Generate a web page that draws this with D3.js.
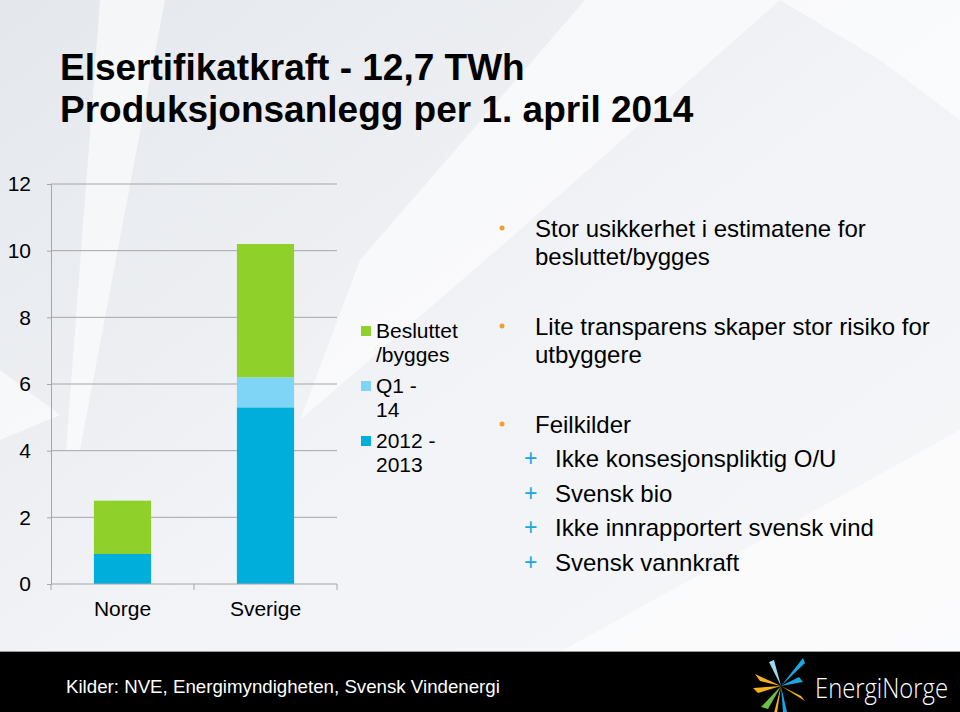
<!DOCTYPE html>
<html>
<head>
<meta charset="utf-8">
<script src="https://cdn.jsdelivr.net/npm/d3@7"></script>
<style>
  html, body { margin: 0; padding: 0; background: #e9ecf0; }
  svg { display: block; }
  text { font-family: "Liberation Sans", Arial, sans-serif; }
</style>
</head>
<body>
<script>
// data
const categories = ["Norge", "Sverige"];
const seriesKeys = ["2012 - 2013", "Q1 - 14", "Besluttet /bygges"];
const values2012to2013 = [0.9, 5.3];
const valuesQ1of14 = [0, 0.9];
const valuesBesluttet = [1.6, 4.0];
const yTicks = [0, 2, 4, 6, 8, 10, 12];
const legendLines = [["Besluttet", "/bygges"], ["Q1 -", "14"], ["2012 -", "2013"]];
const colors = ["#00aedb", "#7fd5f6", "#8fd12a"];

const bullets = [
  { lines: ["Stor usikkerhet i estimatene for", "besluttet/bygges"], y: 237 },
  { lines: ["Lite transparens skaper stor risiko for", "utbyggere"], y: 335 },
  { lines: ["Feilkilder"], y: 433 }
];
const subBullets = ["Ikke konsesjonspliktig O/U", "Svensk bio", "Ikke innrapportert svensk vind", "Svensk vannkraft"];

const width = 960, height = 712;

const svg = d3.select("body").append("svg")
  .attr("width", width)
  .attr("height", height);

// background
const defs = svg.append("defs");
const grad = defs.append("linearGradient").attr("id", "bg")
  .attr("x1", 0).attr("y1", 0).attr("x2", 1).attr("y2", 1);
grad.append("stop").attr("offset", "0%").attr("stop-color", "#e4e7ec");
grad.append("stop").attr("offset", "50%").attr("stop-color", "#f1f3f6");
grad.append("stop").attr("offset", "100%").attr("stop-color", "#f6f7f9");
svg.append("rect").attr("width", width).attr("height", height).attr("fill", "url(#bg)");

const shards = [
  [[585, 0], [780, 0], [520, 230], [300, 420], [360, 260]],
  [[100, 0], [165, 0], [80, 450], [66, 450]],
  [[560, 652], [960, 430], [960, 652]],
  [[0, 370], [60, 415], [0, 440]],
  [[780, 0], [960, 0], [960, 120], [880, 60]]
];
svg.append("g").selectAll("polygon")
  .data(shards)
  .enter()
  .append("polygon")
  .attr("points", d => d.map(p => p.join(",")).join(" "))
  .attr("fill", "#ffffff")
  .attr("opacity", 0.6);

// title
svg.append("text")
  .attr("x", 60).attr("y", 80)
  .attr("font-size", 37).attr("font-weight", "bold")
  .attr("fill", "#000")
  .text("Elsertifikatkraft - 12,7 TWh");
svg.append("text")
  .attr("x", 60).attr("y", 122)
  .attr("font-size", 37).attr("font-weight", "bold")
  .attr("fill", "#000")
  .text("Produksjonsanlegg per 1. april 2014");

// chart
const x = d3.scaleBand()
  .domain(categories)
  .range([51, 337])
  .paddingInner(0.6)
  .paddingOuter(0.3);

const y = d3.scaleLinear()
  .domain([0, 12])
  .range([584, 184]);

const rows = categories.map((c, i) => ({
  cat: c,
  [seriesKeys[0]]: values2012to2013[i],
  [seriesKeys[1]]: valuesQ1of14[i],
  [seriesKeys[2]]: valuesBesluttet[i]
}));
const stacked = d3.stack().keys(seriesKeys)(rows);

// gridlines
svg.append("g").selectAll("line")
  .data(yTicks.filter(t => t > 0))
  .enter()
  .append("line")
  .attr("x1", 51).attr("x2", 337)
  .attr("y1", d => y(d)).attr("y2", d => y(d))
  .attr("stroke", "#a6a6a6").attr("stroke-width", 1);

const yAxis = svg.append("g")
  .attr("transform", "translate(51,0)")
  .call(d3.axisLeft(y).tickValues(yTicks).tickSize(4).tickPadding(16));
yAxis.select(".domain").attr("stroke", "#a6a6a6");
yAxis.selectAll(".tick line").attr("stroke", "#a6a6a6");
yAxis.selectAll("text")
  .attr("font-size", 21).attr("fill", "#000")
  .style("font-family", "'Liberation Sans', Arial, sans-serif");

// bars
svg.append("g").selectAll("g")
  .data(stacked)
  .enter()
  .append("g")
  .attr("fill", (d, i) => colors[i])
  .selectAll("rect")
  .data(d => d)
  .enter()
  .append("rect")
  .attr("x", d => x(d.data.cat))
  .attr("width", x.bandwidth())
  .attr("y", d => y(d[1]))
  .attr("height", d => y(d[0]) - y(d[1]));

// x axis (category boundaries)
const bounds = [51, (x("Norge") + x.bandwidth() + x("Sverige")) / 2, 337];
const xAxis = svg.append("g").attr("transform", "translate(0,584)");
xAxis.append("line").attr("x1", 51).attr("x2", 337).attr("stroke", "#a6a6a6");
xAxis.selectAll(".tk")
  .data(bounds)
  .enter()
  .append("line")
  .attr("x1", d => d).attr("x2", d => d)
  .attr("y1", 0).attr("y2", 6)
  .attr("stroke", "#a6a6a6");
xAxis.selectAll("text")
  .data(categories)
  .enter()
  .append("text")
  .attr("x", d => x(d) + x.bandwidth() / 2)
  .attr("y", 32)
  .attr("text-anchor", "middle")
  .attr("font-size", 21)
  .attr("fill", "#000")
  .text(d => d);

// legend
const legend = svg.append("g").attr("transform", "translate(361,0)");
const legendItems = legend.selectAll("g")
  .data(legendLines)
  .enter()
  .append("g")
  .attr("transform", (d, i) => `translate(0,${331 + i * 55})`);
legendItems.append("rect")
  .attr("x", 0).attr("y", -5)
  .attr("width", 10).attr("height", 10)
  .attr("fill", (d, i) => colors[2 - i]);
legendItems.each(function(d) {
  const t = d3.select(this).append("text")
    .attr("x", 15).attr("y", 7)
    .attr("font-size", 21)
    .attr("fill", "#000");
  t.selectAll("tspan")
    .data(d)
    .enter()
    .append("tspan")
    .attr("x", 15)
    .attr("dy", (l, j) => j === 0 ? 0 : 24)
    .text(l => l);
});

// bullet text
const notes = svg.append("g");
bullets.forEach(b => {
  notes.append("circle")
    .attr("cx", 502).attr("cy", b.y - 9).attr("r", 2.5)
    .attr("fill", "#f0a030");
  const t = notes.append("text")
    .attr("x", 535).attr("y", b.y)
    .attr("font-size", 24)
    .attr("fill", "#000");
  t.selectAll("tspan")
    .data(b.lines)
    .enter()
    .append("tspan")
    .attr("x", 535)
    .attr("dy", (l, j) => j === 0 ? 0 : 28)
    .text(l => l);
});
subBullets.forEach((s, i) => {
  const yy = 467 + i * 34.6;
  notes.append("text")
    .attr("x", 524).attr("y", yy - 1)
    .attr("font-size", 23).attr("fill", "#1aa7e0")
    .text("+");
  notes.append("text")
    .attr("x", 555).attr("y", yy)
    .attr("font-size", 24).attr("fill", "#000")
    .text(s);
});

// footer
svg.append("line")
  .attr("x1", 0).attr("x2", width).attr("y1", 651.5).attr("y2", 651.5)
  .attr("stroke", "#9a9a9a");
svg.append("rect")
  .attr("x", 0).attr("y", 652).attr("width", width).attr("height", 60)
  .attr("fill", "#000");
svg.append("text")
  .attr("x", 66).attr("y", 693)
  .attr("font-size", 18.7).attr("fill", "#fff")
  .text("Kilder: NVE, Energimyndigheten, Svensk Vindenergi");

// logo
const logo = svg.append("g").attr("transform", "translate(781,686)");
const rays = [
  { p: [[0, 0], [-26, -12], [-21, -5]], c: "#f7b21b" },
  { p: [[0, 0], [-28, 2], [-23, 7]], c: "#f7b21b" },
  { p: [[0, 0], [-12, -24], [-7, -26]], c: "#9fd8f0" },
  { p: [[0, 0], [22, -28], [24, -23]], c: "#1aa7e0" },
  { p: [[0, 0], [18, -9], [22, -4]], c: "#1aa7e0" },
  { p: [[0, 0], [-20, 21], [-13, 23]], c: "#6cc04a" },
  { p: [[0, 0], [2, 26], [6, 26]], c: "#1aa7e0" },
  { p: [[0, 0], [20, 10], [24, 15]], c: "#f7b21b" },
  { p: [[0, 0], [-7, 27], [-4, 27]], c: "#f7b21b" }
];
logo.selectAll("polygon")
  .data(rays)
  .enter()
  .append("polygon")
  .attr("points", d => d.p.map(q => q.join(",")).join(" "))
  .attr("fill", d => d.c);
svg.append("g")
  .attr("transform", "translate(815,698) scale(1,1.22)")
  .append("text")
  .attr("x", 0).attr("y", 0)
  .attr("font-size", 22).attr("fill", "#fff")
  .attr("font-weight", 300)
  .attr("textLength", 133)
  .attr("lengthAdjust", "spacingAndGlyphs")
  .style("font-family", "'Open Sans', sans-serif")
  .text("EnergiNorge");
</script>
</body>
</html>
